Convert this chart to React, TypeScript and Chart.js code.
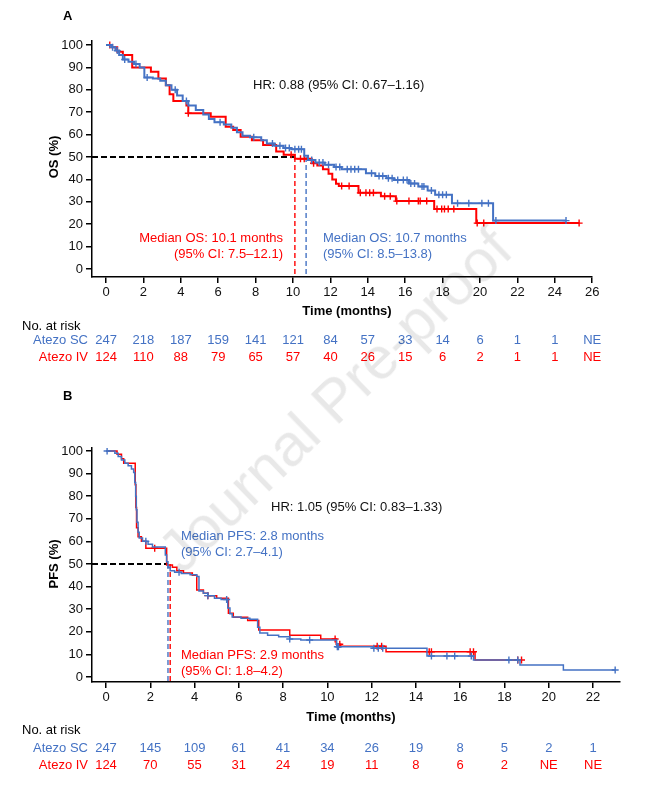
import React, { useEffect, useRef } from 'react';
import { Chart, registerables } from 'chart.js';

Chart.register(...registerables);

const RED = '#ff0000';
const BLUE = '#4472c4';
const FONT = "'Liberation Sans', Arial, sans-serif";

// ---------- Panel A: overall survival ----------
const osTicks = [0, 2, 4, 6, 8, 10, 12, 14, 16, 18, 20, 22, 24, 26];
const osYTicks = [0, 10, 20, 30, 40, 50, 60, 70, 80, 90, 100];

const osScTimes = [0, 0.3, 0.5, 0.7, 0.9, 1.2, 1.5, 1.8, 2.05, 2.5, 2.9, 3.2, 3.5, 3.8, 4.1, 4.4, 4.8, 5.2, 5.5, 5.8, 6.3, 6.7, 7.0, 7.3, 7.7, 8.3, 8.6, 9.0, 9.5, 9.9, 10.6, 10.8, 11.2, 11.7, 12.2, 12.6, 13.9, 14.4, 15.0, 15.4, 16.2, 16.7, 17.2, 17.6, 18.5, 20.7, 24.6];
const osScSurv = [100, 99, 97.5, 95.5, 93.5, 92.5, 91.5, 90, 85.5, 85, 84, 82, 80, 77.5, 75, 73, 71, 69, 67, 65.5, 64.5, 63, 61, 59.5, 58.8, 57.5, 56, 55, 54, 53.5, 50.5, 48.7, 47.5, 46.5, 45.5, 44.5, 42.7, 41.5, 40.5, 39.7, 38.2, 36.8, 35.0, 33.2, 29.3, 21.6, 21.6];
const osScCensor = [0.35, 0.6, 1.0, 1.6, 2.2, 3.7, 4.3, 6.1, 7.9, 8.9, 9.3, 9.6, 9.8, 10.1, 10.3, 10.45, 11.0, 11.4, 11.6, 11.9, 12.3, 12.5, 12.9, 13.1, 13.3, 13.5, 14.2, 14.6, 14.8, 15.1, 15.3, 15.6, 15.9, 16.1, 16.3, 16.5, 16.9, 17.0, 17.4, 17.8, 18.0, 18.2, 18.8, 19.4, 20.1, 20.45, 20.85, 24.6];

const osIvTimes = [0, 0.3, 0.6, 0.9, 1.4, 2.4, 2.8, 3.2, 3.4, 3.6, 4.3, 4.4, 5.6, 6.4, 6.8, 7.2, 7.8, 8.4, 9.1, 9.5, 10.1, 11.0, 11.3, 11.6, 11.9, 12.1, 12.3, 12.45, 13.5, 14.7, 15.5, 17.55, 19.8, 25.3];
const osIvSurv = [100, 99, 97, 95.5, 90, 88, 85, 82, 78, 75, 73, 69.5, 68, 63.5, 62, 59, 57.5, 55.4, 52.4, 51, 49.2, 47.2, 46.2, 44.5, 42.5, 40, 38, 37, 34, 32.5, 30.3, 26.8, 20.5, 20.5];
const osIvCensor = [0.2, 4.4, 9.9, 10.4, 10.6, 11.1, 12.6, 13.0, 13.6, 13.9, 14.1, 14.3, 14.9, 15.2, 15.55, 16.2, 16.7, 16.8, 17.15, 17.7, 17.95, 18.1, 18.3, 18.6, 19.85, 20.2, 25.3];

const osMedianSc = 10.7;
const osMedianIv = 10.1;
const osRiskSc = ['247', '218', '187', '159', '141', '121', '84', '57', '33', '14', '6', '1', '1', 'NE'];
const osRiskIv = ['124', '110', '88', '79', '65', '57', '40', '26', '15', '6', '2', '1', '1', 'NE'];

// ---------- Panel B: progression-free survival ----------
const pfsTicks = [0, 2, 4, 6, 8, 10, 12, 14, 16, 18, 20, 22];
const pfsYTicks = [0, 10, 20, 30, 40, 50, 60, 70, 80, 90, 100];

const pfsScTimes = [0, 0.4, 0.55, 0.7, 0.85, 1.0, 1.15, 1.25, 1.3, 1.34, 1.37, 1.4, 1.45, 1.5, 1.65, 1.9, 2.1, 2.68, 2.74, 2.8, 2.9, 3.1, 3.4, 3.8, 4.1, 4.2, 4.4, 4.6, 4.9, 5.2, 5.5, 5.6, 5.7, 6.1, 6.5, 6.85, 6.95, 7.3, 7.8, 8.3, 8.8, 10.42, 12.07, 14.5, 16.6, 18.7, 20.66, 23.0];
const pfsScSurv = [100, 99, 97.5, 96, 94.5, 93.5, 92, 90.5, 86, 80, 74, 68.5, 64, 61.5, 60, 58.7, 57.5, 54, 51, 48.5, 47, 46.3, 45.8, 45.2, 44.5, 38, 37, 36, 34.8, 34.3, 30.5, 28, 26.5, 26, 25.5, 22, 19.5, 18.5, 17.8, 16.8, 16.4, 13.4, 12.7, 9.3, 7.5, 5.3, 3.1, 3.1];
const pfsScCensor = [0.05, 1.8, 3.3, 4.6, 5.45, 8.3, 9.2, 10.45, 10.5, 12.1, 12.3, 12.5, 14.7, 15.4, 15.75, 16.5, 18.2, 18.6, 23.0];

const pfsIvTimes = [0, 0.5, 0.7, 0.8, 1.32, 1.35, 1.38, 1.45, 1.6, 1.8, 2.74, 3.0, 3.2, 3.5, 3.9, 4.1, 4.4, 4.6, 5.0, 5.53, 5.75, 6.4, 6.9, 8.3, 9.7, 10.4, 10.6, 12.65, 16.67, 18.77];
const pfsIvSurv = [100, 98.5, 96.5, 94.5, 85, 75, 66, 62, 60, 57, 49.5, 48.5, 47, 46, 45, 38.5, 37, 36, 34.8, 28.2, 26.4, 25, 20.8, 18.5, 16.8, 14.5, 13.6, 11.2, 7.5, 7.5];
const pfsIvCensor = [2.2, 4.6, 10.35, 10.56, 12.25, 12.45, 14.6, 14.7, 16.45, 16.6, 18.6, 18.77];

const pfsMedianSc = 2.8;
const pfsMedianIv = 2.9;
const pfsRiskSc = ['247', '145', '109', '61', '41', '34', '26', '19', '8', '5', '2', '1'];
const pfsRiskIv = ['124', '70', '55', '31', '24', '19', '11', '8', '6', '2', 'NE', 'NE'];

// ---------- helpers ----------
const toPoints = (t: number[], s: number[]) => t.map((x, i) => ({ x, y: s[i] }));
const survAt = (t: number[], s: number[], at: number) => {
  let v = s[0];
  for (let i = 0; i < t.length; i++) if (t[i] <= at + 1e-9) v = s[i];
  return v;
};
const censorPoints = (c: number[], t: number[], s: number[]) => c.map((x) => ({ x, y: survAt(t, s, x) }));
const f = (size: number, weight = 'normal') => `${weight} ${size}px ${FONT}`;

type PanelCfg = {
  height: number;
  xMin: number; xMax: number; yMin: number; yMax: number;
  padTop: number; padRight: number; padBottom: number;
  ticks: number[]; yTicks: number[];
  sc: { t: number[]; s: number[]; c: number[] };
  iv: { t: number[]; s: number[]; c: number[] };
  medSc: number; medIv: number;
  curveWidth: number;
  letter: string; yTitle: string;
  xTitleX: number; xTitleY: number;
  hr: string; hrX: number; hrY: number;
  medTexts: { color: string; align: CanvasTextAlign; x: number; y: number; lines: string[] }[];
  riskHeaderY: number; riskScY: number; riskIvY: number;
  riskSc: string[]; riskIv: string[];
  pfsStyleMedian: boolean;
};

function makeOverlay(p: PanelCfg) {
  return {
    id: 'overlay',
    afterDraw(chart: any) {
      const { ctx, scales } = chart;
      const xs = scales.x;
      const ys = scales.y;
      ctx.save();
      ctx.textBaseline = 'middle';
      ctx.fillStyle = '#000';
      ctx.font = f(13, 'bold');
      ctx.textAlign = 'left';
      ctx.fillText(p.letter, 63, 16);
      ctx.save();
      ctx.translate(54, (ys.getPixelForValue(0) + ys.getPixelForValue(100)) / 2);
      ctx.rotate(-Math.PI / 2);
      ctx.textAlign = 'center';
      ctx.fillText(p.yTitle, 0, 0);
      ctx.restore();
      ctx.textAlign = 'center';
      ctx.fillText('Time (months)', p.xTitleX, p.xTitleY);

      ctx.font = f(13);
      ctx.textAlign = 'left';
      ctx.fillStyle = '#111';
      ctx.fillText(p.hr, p.hrX, p.hrY);

      for (const m of p.medTexts) {
        ctx.fillStyle = m.color;
        ctx.textAlign = m.align;
        m.lines.forEach((l, i) => ctx.fillText(l, m.x, m.y + i * 16.5));
      }

      ctx.fillStyle = '#000';
      ctx.textAlign = 'left';
      ctx.fillText('No. at risk', 22, p.riskHeaderY);
      const rows = [
        { label: 'Atezo SC', color: BLUE, y: p.riskScY, vals: p.riskSc },
        { label: 'Atezo IV', color: RED, y: p.riskIvY, vals: p.riskIv },
      ];
      for (const r of rows) {
        ctx.fillStyle = r.color;
        ctx.textAlign = 'right';
        ctx.fillText(r.label, 88, r.y);
        ctx.textAlign = 'center';
        r.vals.forEach((v, i) => ctx.fillText(v, xs.getPixelForValue(p.ticks[i]), r.y));
      }
      ctx.restore();
    },
  };
}

function Panel({ p, top }: { p: PanelCfg; top: number }) {
  const ref = useRef<HTMLCanvasElement | null>(null);
  useEffect(() => {
    if (!ref.current) return;
    const stepLine = (pts: any[], color: string) => ({
      data: pts, borderColor: color, backgroundColor: color, borderWidth: p.curveWidth,
      pointRadius: 0, stepped: 'before' as const, fill: false,
    });
    const marks = (pts: any[], color: string) => ({
      data: pts, borderColor: color, backgroundColor: color, borderWidth: 1.4,
      pointRadius: 3.5, pointStyle: 'cross' as const, showLine: false,
    });
    const dash = (pts: any[], color: string, width: number, d: number[]) => ({
      data: pts, borderColor: color, borderWidth: width, borderDash: d,
      pointRadius: 0, fill: false,
    });
    const firstMed = Math.min(p.medSc, p.medIv);
    const datasets: any[] = [
      marks(censorPoints(p.sc.c, p.sc.t, p.sc.s), BLUE),
      stepLine(toPoints(p.sc.t, p.sc.s), BLUE),
      marks(censorPoints(p.iv.c, p.iv.t, p.iv.s), RED),
      stepLine(toPoints(p.iv.t, p.iv.s), RED),
      dash([{ x: p.xMin, y: 50 }, { x: p.pfsStyleMedian ? p.medSc : firstMed, y: 50 }], '#000', 2, [6, 3]),
      dash([{ x: p.medIv, y: 50 }, { x: p.medIv, y: p.yMin }], RED, 1.4, [5, 3]),
      dash([{ x: p.medSc, y: 50 }, { x: p.medSc, y: p.yMin }], BLUE, 1.4, [5, 3]),
    ];
    const tickFont = { family: FONT, size: 13 };
    const chart = new Chart(ref.current, {
      type: 'line',
      data: { datasets },
      options: {
        responsive: false,
        maintainAspectRatio: false,
        animation: false,
        parsing: false as any,
        normalized: true,
        layout: { padding: { left: 0, top: p.padTop, right: p.padRight, bottom: p.padBottom } },
        plugins: { legend: { display: false }, tooltip: { enabled: false } },
        scales: {
          x: {
            type: 'linear', min: p.xMin, max: p.xMax,
            afterBuildTicks: (s: any) => { s.ticks = p.ticks.map((v) => ({ value: v })); },
            afterFit: (s: any) => { s.height = 30; },
            ticks: { font: tickFont, color: '#111', padding: 2, maxRotation: 0, autoSkip: false, callback: (v: any) => String(v) },
            grid: { display: true, drawOnChartArea: false, drawTicks: true, tickLength: 6, color: '#000', lineWidth: 1.5 },
            border: { display: true, color: '#000', width: 1.5 },
          },
          y: {
            type: 'linear', min: p.yMin, max: p.yMax,
            afterBuildTicks: (s: any) => { s.ticks = p.yTicks.map((v) => ({ value: v })); },
            afterFit: (s: any) => { s.width = 92; },
            ticks: { font: tickFont, color: '#111', padding: 3, autoSkip: false, callback: (v: any) => String(v) },
            grid: { display: true, drawOnChartArea: false, drawTicks: true, tickLength: 6, color: '#000', lineWidth: 1.5 },
            border: { display: true, color: '#000', width: 1.5 },
          },
        },
      } as any,
      plugins: [makeOverlay(p)],
    });
    return () => chart.destroy();
  }, [p]);
  return (
    <canvas
      ref={ref}
      width={645}
      height={p.height}
      style={{ position: 'absolute', left: 0, top, width: 645, height: p.height, display: 'block' }}
    />
  );
}

const panelA: PanelCfg = {
  height: 380,
  xMin: -0.75, xMax: 26, yMin: -3.57, yMax: 102,
  padTop: 40.5, padRight: 52.8, padBottom: 73,
  ticks: osTicks, yTicks: osYTicks,
  sc: { t: osScTimes, s: osScSurv, c: osScCensor },
  iv: { t: osIvTimes, s: osIvSurv, c: osIvCensor },
  medSc: osMedianSc, medIv: osMedianIv,
  curveWidth: 2,
  letter: 'A', yTitle: 'OS (%)',
  xTitleX: 347, xTitleY: 311,
  hr: 'HR: 0.88 (95% CI: 0.67–1.16)', hrX: 253, hrY: 85,
  medTexts: [
    { color: RED, align: 'right', x: 283, y: 238, lines: ['Median OS: 10.1 months', '(95% CI: 7.5–12.1)'] },
    { color: BLUE, align: 'left', x: 323, y: 238, lines: ['Median OS: 10.7 months', '(95% CI: 8.5–13.8)'] },
  ],
  riskHeaderY: 326, riskScY: 340, riskIvY: 357,
  riskSc: osRiskSc, riskIv: osRiskIv,
  pfsStyleMedian: false,
};

const panelB: PanelCfg = {
  height: 409,
  xMin: -0.632, xMax: 23.2, yMin: -2.2, yMax: 101.3,
  padTop: 68, padRight: 25.4, padBottom: 77,
  ticks: pfsTicks, yTicks: pfsYTicks,
  sc: { t: pfsScTimes, s: pfsScSurv, c: pfsScCensor },
  iv: { t: pfsIvTimes, s: pfsIvSurv, c: pfsIvCensor },
  medSc: pfsMedianSc, medIv: pfsMedianIv,
  curveWidth: 1.5,
  letter: 'B', yTitle: 'PFS (%)',
  xTitleX: 351, xTitleY: 337,
  hr: 'HR: 1.05 (95% CI: 0.83–1.33)', hrX: 271, hrY: 127,
  medTexts: [
    { color: BLUE, align: 'left', x: 181, y: 156, lines: ['Median PFS: 2.8 months', '(95% CI: 2.7–4.1)'] },
    { color: RED, align: 'left', x: 181, y: 275, lines: ['Median PFS: 2.9 months', '(95% CI: 1.8–4.2)'] },
  ],
  riskHeaderY: 350, riskScY: 368, riskIvY: 385,
  riskSc: pfsRiskSc, riskIv: pfsRiskIv,
  pfsStyleMedian: true,
};

export default function App() {
  return (
    <div style={{ position: 'absolute', left: 0, top: 0, width: 645, height: 789, background: '#fff', overflow: 'hidden' }}>
      <Panel p={panelA} top={0} />
      <Panel p={panelB} top={380} />
      <div
        style={{
          position: 'absolute', left: 335, top: 400,
          transform: 'translate(-50%, -50%) rotate(-44deg)',
          fontFamily: FONT, fontSize: 60, color: 'rgba(0,0,0,0.09)',
          whiteSpace: 'nowrap', pointerEvents: 'none', lineHeight: 1,
        }}
      >
        Journal Pre-proof
      </div>
    </div>
  );
}
